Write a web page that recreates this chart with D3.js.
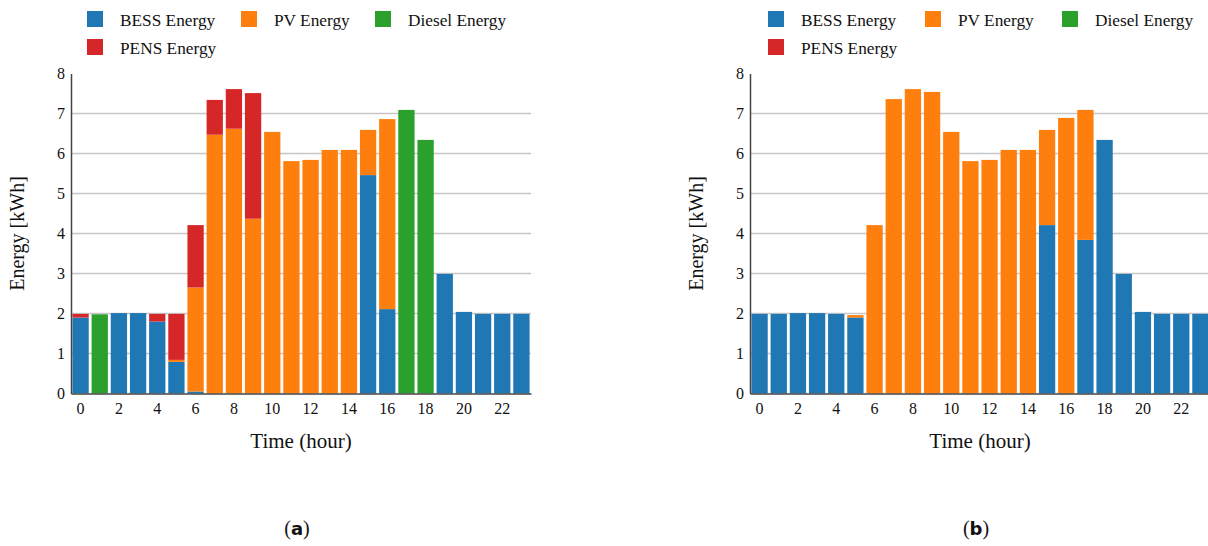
<!DOCTYPE html>
<html>
<head>
<meta charset="utf-8">
<script src="https://cdn.jsdelivr.net/npm/d3@7"></script>
<style>
  html, body { margin: 0; padding: 0; background: #fff; }
  svg { display: block; }
  text { font-family: "Liberation Serif", "Times New Roman", serif; fill: #111; }
</style>
</head>
<body>
<svg id="chart" width="1208" height="546"></svg>
<script>
// Hourly energy dispatch, two scenarios
const hours = [0,1,2,3,4,5,6,7,8,9,10,11,12,13,14,15,16,17,18,19,20,21,22,23];
const xTickLabels = [0,2,4,6,8,10,12,14,16,18,20,22];
const yTickValues = [0,1,2,3,4,5,6,7,8];
const seriesNames = ["BESS Energy", "PV Energy", "Diesel Energy", "PENS Energy"];
const seriesColors = ["#1f77b4", "#ff7f0e", "#2ca02c", "#d62728"];

// Scenario (a)
const bessA   = [1.90,0,2.01,2.01,1.80,0.79,0.05,0,0,0,0,0,0,0,0,5.46,2.11,0,0,2.99,2.04,1.99,1.99,1.99];
const pvA     = [0,0,0,0,0,0.05,2.60,6.47,6.62,4.37,6.54,5.81,5.84,6.09,6.09,1.13,4.75,0,0,0,0,0,0,0];
const dieselA = [0,1.98,0,0,0,0,0,0,0,0,0,0,0,0,0,0,0,7.09,6.34,0,0,0,0,0];
const pensA   = [0.09,0,0,0,0.19,1.15,1.56,0.87,0.99,3.14,0,0,0,0,0,0,0,0,0,0,0,0,0,0];

// Scenario (b)
const bessB   = [1.99,1.99,2.01,2.01,1.99,1.90,0,0,0,0,0,0,0,0,0,4.21,0,3.84,6.34,2.99,2.04,1.99,1.99,1.99];
const pvB     = [0,0,0,0,0,0.06,4.21,7.36,7.61,7.54,6.54,5.81,5.84,6.09,6.09,2.38,6.89,3.25,0,0,0,0,0,0];
const dieselB = [0,0,0,0,0,0,0,0,0,0,0,0,0,0,0,0,0,0,0,0,0,0,0,0];
const pensB   = [0,0,0,0,0,0,0,0,0,0,0,0,0,0,0,0,0,0,0,0,0,0,0,0];

const svg = d3.select("#chart");

function rows(b, p, d, n) {
  return hours.map((h, i) => ({
    hour: h,
    "BESS Energy": b[i], "PV Energy": p[i], "Diesel Energy": d[i], "PENS Energy": n[i]
  }));
}

const panels = [
  { data: rows(bessA, pvA, dieselA, pensA), x0: 71, x1: 531, caption: "a",
    legendX: [16, 170, 304], yTitleX: 18 },
  { data: rows(bessB, pvB, dieselB, pensB), x0: 750, x1: 1210, caption: "b",
    legendX: [18, 175, 312], yTitleX: 697 }
];

const yTop = 73.5, yBottom = 393.5;
const color = d3.scaleOrdinal().domain(seriesNames).range(seriesColors);

panels.forEach(panel => {
  const g = svg.append("g");

  const x = d3.scaleBand().domain(hours).range([panel.x0, panel.x1])
    .paddingInner(0.15).paddingOuter(0.075);
  const y = d3.scaleLinear().domain([0, 8]).range([yBottom, yTop]);

  // horizontal grid
  g.append("g").selectAll("line")
    .data(yTickValues.filter(v => v > 0 && v < 8))
    .join("line")
    .attr("x1", panel.x0).attr("x2", panel.x1)
    .attr("y1", d => y(d)).attr("y2", d => y(d))
    .attr("stroke", "#c6c6c6").attr("stroke-width", 1.5);

  // stacked bars
  const stacked = d3.stack().keys(seriesNames)(panel.data);
  g.append("g").selectAll("g")
    .data(stacked)
    .join("g")
    .attr("fill", s => color(s.key))
    .selectAll("rect")
    .data(s => s.filter(d => d[1] - d[0] > 0))
    .join("rect")
    .attr("x", d => x(d.data.hour))
    .attr("width", x.bandwidth())
    .attr("y", d => y(d[1]))
    .attr("height", d => y(d[0]) - y(d[1]));

  // y axis
  const yAxis = g.append("g")
    .attr("transform", `translate(${panel.x0},0)`)
    .attr("font-family", null)
    .call(d3.axisLeft(y).tickValues(yTickValues).tickSize(0).tickPadding(6));
  yAxis.attr("font-family", "Liberation Serif").attr("font-size", 16);
  yAxis.select(".domain").attr("stroke", "#444").attr("stroke-width", 1.5);
  yAxis.selectAll("text").attr("fill", "#111");

  // x axis
  const xAxis = g.append("g")
    .attr("transform", `translate(0,${yBottom})`)
    .call(d3.axisBottom(x).tickValues(xTickLabels).tickSize(0).tickPadding(9));
  xAxis.attr("font-family", "Liberation Serif").attr("font-size", 16);
  xAxis.select(".domain").attr("stroke", "#444").attr("stroke-width", 1.5);
  xAxis.selectAll("text").attr("fill", "#111");

  // axis titles
  const cx = (panel.x0 + panel.x1) / 2;
  g.append("text")
    .attr("x", cx).attr("y", 448)
    .attr("text-anchor", "middle")
    .style("font-size", "21px")
    .text("Time (hour)");
  g.append("text")
    .attr("transform", `translate(${panel.yTitleX + 6},${(yTop + yBottom) / 2}) rotate(-90)`)
    .attr("text-anchor", "middle")
    .style("font-size", "20px")
    .text("Energy [kWh]");

  // caption
  const cap = g.append("text")
    .attr("x", cx - 4).attr("y", 535)
    .attr("text-anchor", "middle")
    .style("font-size", "20px");
  cap.append("tspan").text("(");
  cap.append("tspan").style("font-weight", "bold").style("font-family", "DejaVu Sans").style("font-size", "18px").text(panel.caption);
  cap.append("tspan").text(")");

  // legend
  const legendItems = seriesNames.map((name, i) => ({
    name,
    lx: panel.x0 + panel.legendX[i % 3],
    ly: i < 3 ? 11 : 39
  }));
  const lg = g.append("g").selectAll("g").data(legendItems).join("g")
    .attr("transform", d => `translate(${d.lx},${d.ly})`);
  lg.append("rect").attr("width", 16).attr("height", 16)
    .attr("fill", d => color(d.name));
  lg.append("text").attr("x", 33).attr("y", 15)
    .style("font-size", "17.3px")
    .text(d => d.name);
});
</script>
</body>
</html>
